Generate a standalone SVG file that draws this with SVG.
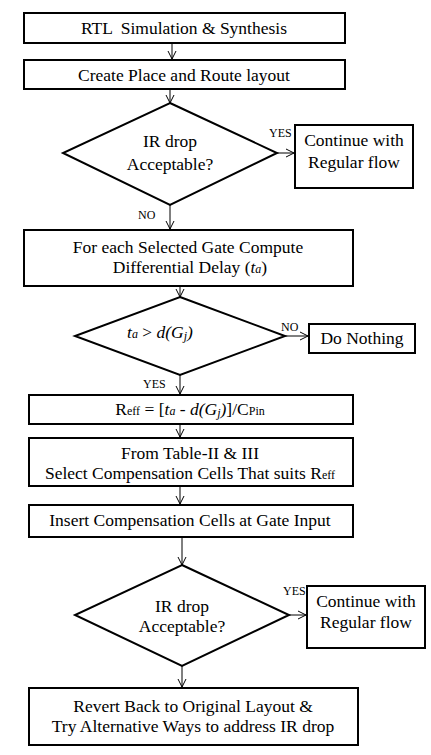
<svg xmlns="http://www.w3.org/2000/svg" width="431" height="755" viewBox="0 0 431 755">
<style>
text{font-family:'Liberation Serif','Times New Roman',serif;fill:#000}
.b{fill:#fff;stroke:#000;stroke-width:2}
.t{font-size:17.5px;text-anchor:middle}
.s{font-size:12px}
.c line{stroke:#000;stroke-width:1;marker-end:url(#ah)}
.i{font-style:italic}
.sub{font-size:12px}
</style>
<defs>
<marker id="ah" viewBox="0 0 10 10" refX="10" refY="5" markerWidth="10" markerHeight="10" markerUnits="userSpaceOnUse" orient="auto">
<polyline points="2,1 10,5 2,9" fill="none" stroke="#000" stroke-width="1"/>
</marker>
</defs>
<rect width="431" height="755" fill="#fff"/>
<g class="c" id="connectors">
<line x1="172" y1="43" x2="172" y2="59"/>
<line x1="170" y1="89" x2="170" y2="103"/>
<line x1="277" y1="153" x2="294" y2="153"/>
<line x1="170" y1="205" x2="170" y2="229"/>
<line x1="180" y1="286" x2="180" y2="297"/>
<line x1="285" y1="336" x2="308" y2="336"/>
<line x1="180" y1="375" x2="180" y2="394"/>
<line x1="180" y1="424" x2="180" y2="437"/>
<line x1="180" y1="486" x2="180" y2="504"/>
<line x1="182" y1="537" x2="182" y2="565"/>
<line x1="289" y1="615" x2="306" y2="615"/>
<line x1="182" y1="666" x2="182" y2="687"/>
</g>
<g id="n1"><rect class="b" x="24" y="13" width="321" height="30"/><text class="t" x="184" y="34">RTL <tspan dx="4">Simulation &amp; Synthesis</tspan></text></g>
<g id="n2"><rect class="b" x="24" y="60" width="321" height="29"/><text class="t" x="184" y="81">Create Place and Route layout</text></g>
<g id="d1"><polygon class="b" points="170,103 277,153 170,205 63,153"/><text class="t" x="170" y="147">IR drop</text><text class="t" x="170" y="170">Acceptable?</text>
<text class="s" x="269" y="137">YES</text><text class="s" x="138" y="219">NO</text></g>
<g id="n3"><rect class="b" x="295" y="125" width="118" height="63"/><text class="t" x="354" y="146">Continue with</text><text class="t" x="354" y="168">Regular flow</text></g>
<g id="n4"><rect class="b" x="24" y="230" width="329" height="56"/><text class="t" x="188" y="253">For each Selected Gate Compute</text><text class="t" x="190" y="273">Differential Delay (<tspan class="i">t</tspan><tspan class="i sub">a</tspan>)</text></g>
<g id="d2"><polygon class="b" points="180,297 285,336 180,375 75,336"/><text class="t" x="160" y="338"><tspan class="i">t</tspan><tspan class="i sub">a</tspan> &gt; <tspan class="i">d(G</tspan><tspan class="i sub" dy="2">j</tspan><tspan class="i" dy="-2">)</tspan></text>
<text class="s" x="281" y="331">NO</text><text class="s" x="143" y="388">YES</text></g>
<g id="n5"><rect class="b" x="309" y="324" width="106" height="29"/><text class="t" x="362" y="344">Do Nothing</text></g>
<g id="n6"><rect class="b" x="29" y="395" width="324" height="29"/><text class="t" x="190" y="415">R<tspan class="sub">eff</tspan> = [<tspan class="i">t</tspan><tspan class="i sub">a</tspan> - <tspan class="i">d(G</tspan><tspan class="i sub" dy="2">j</tspan><tspan class="i" dy="-2">)</tspan>]/C<tspan class="sub">Pin</tspan></text></g>
<g id="n7"><rect class="b" x="29" y="438" width="324" height="48"/><text class="t" x="190" y="459">From Table-II &amp; III</text><text class="t" x="190" y="479" textLength="290" lengthAdjust="spacingAndGlyphs">Select Compensation Cells That suits R<tspan class="sub">eff</tspan></text></g>
<g id="n8"><rect class="b" x="29" y="505" width="324" height="32"/><text class="t" x="190" y="526">Insert Compensation Cells at Gate Input</text></g>
<g id="d3"><polygon class="b" points="182,565 289,615 182,666 75,615"/><text class="t" x="182" y="612">IR drop</text><text class="t" x="182" y="632">Acceptable?</text>
<text class="s" x="283" y="595">YES</text></g>
<g id="n9"><rect class="b" x="307" y="586" width="118" height="62"/><text class="t" x="366" y="607">Continue with</text><text class="t" x="366" y="628">Regular flow</text></g>
<g id="n10"><rect class="b" x="29" y="688" width="329" height="57"/><text class="t" x="193" y="712">Revert Back to Original Layout &amp;</text><text class="t" x="193" y="732">Try Alternative Ways to address IR drop</text></g>
</svg>
